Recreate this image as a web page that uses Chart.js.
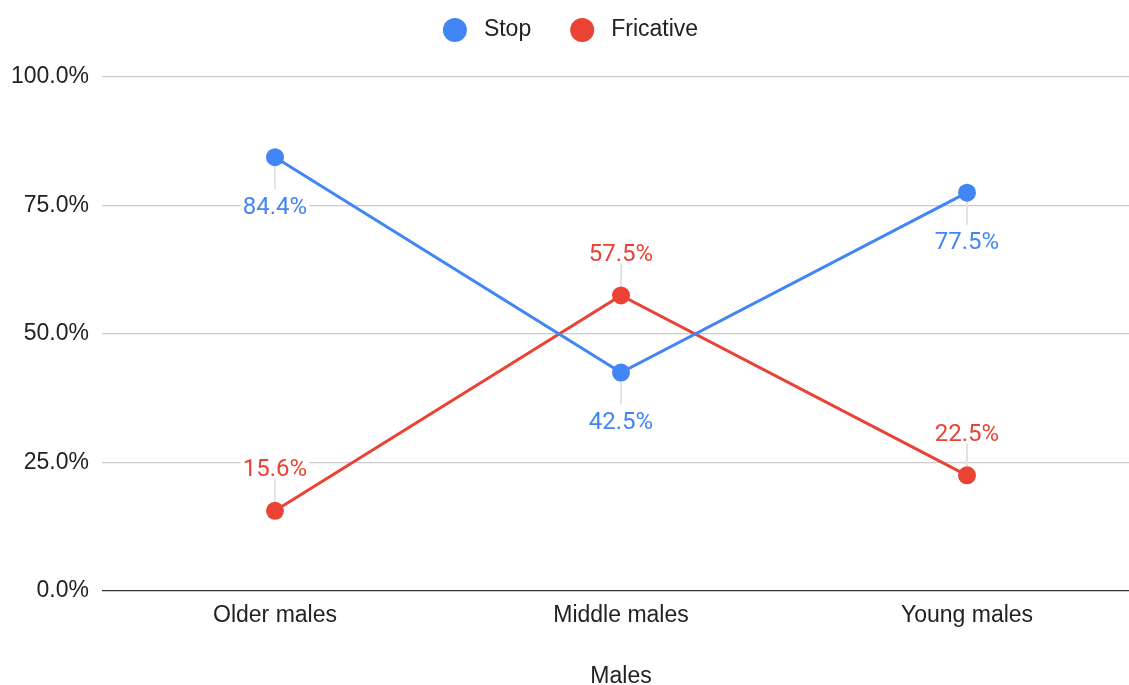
<!DOCTYPE html>
<html>
<head>
<meta charset="utf-8">
<script src="https://cdn.jsdelivr.net/npm/chart.js@4/dist/chart.umd.min.js"></script>
<style>
  html, body { margin: 0; padding: 0; background: #fff; overflow: hidden; }
  #wrap { width: 1149px; height: 685px; }
</style>
</head>
<body>
<div id="wrap"><canvas id="chart" width="1149" height="685"></canvas></div>
<script>
// Share of stop vs. fricative realisations by male age group
const categories = ['Older males', 'Middle males', 'Young males'];
const stopValues = [84.4, 42.5, 77.5];
const fricativeValues = [15.6, 57.5, 22.5];
const yTicks = [0, 25, 50, 75, 100];
const axisTitle = 'Males';

const BLUE = '#4285F4';
const RED = '#EA4335';
const AXIS_FONT = "'Liberation Sans', Arial, Helvetica, sans-serif";
const LABEL_FONT = "Roboto, 'Noto Sans', sans-serif";
const LEGEND_CENTER_X = 570.5;

// Label placement per series: Stop labels sit below their points, Fricative above
const labelSide = { 0: 1, 1: -1 };

const fmt = v => v.toFixed(1) + '%';

// Value labels with a short leader line and a white backing box
const valueLabels = {
  id: 'valueLabels',
  beforeDatasetsDraw(chart) {
    const ctx = chart.ctx;
    ctx.save();
    ctx.strokeStyle = '#e3e3e3';
    ctx.lineWidth = 2;
    chart.data.datasets.forEach((ds, di) => {
      const side = labelSide[di];
      chart.getDatasetMeta(di).data.forEach(pt => {
        ctx.beginPath();
        ctx.moveTo(pt.x, pt.y + side * 9);
        ctx.lineTo(pt.x, pt.y + side * 32);
        ctx.stroke();
      });
    });
    ctx.restore();
  },
  afterDatasetsDraw(chart) {
    const ctx = chart.ctx;
    ctx.save();
    ctx.font = '24px ' + LABEL_FONT;
    ctx.textAlign = 'center';
    ctx.textBaseline = 'alphabetic';
    chart.data.datasets.forEach((ds, di) => {
      const side = labelSide[di];
      chart.getDatasetMeta(di).data.forEach((pt, i) => {
        const text = fmt(ds.data[i]);
        const cy = pt.y + (side > 0 ? 48 : -43);
        const w = ctx.measureText(text).width;
        ctx.fillStyle = '#ffffff';
        ctx.fillRect(pt.x - w / 2 - 2, cy - 10, w + 4, 20);
        ctx.fillStyle = ds.borderColor;
        ctx.fillText(text, pt.x, cy + 8.5);
      });
    });
    ctx.restore();
  }
};

// Centered legend row at the top of the canvas
const topLegend = {
  id: 'topLegend',
  afterDraw(chart) {
    const ctx = chart.ctx;
    ctx.save();
    ctx.font = '23px ' + AXIS_FONT;
    ctx.textBaseline = 'middle';
    ctx.textAlign = 'left';
    const r = 12, gap = 17, itemGap = 39, cy = 30;
    const items = chart.data.datasets.map(ds => ({
      text: ds.label, color: ds.borderColor, w: ctx.measureText(ds.label).width
    }));
    const total = items.reduce((s, it) => s + 2 * r + gap + it.w, 0) + itemGap * (items.length - 1);
    let x = LEGEND_CENTER_X - total / 2;
    items.forEach(it => {
      ctx.fillStyle = it.color;
      ctx.beginPath();
      ctx.arc(x + r, cy, r, 0, Math.PI * 2);
      ctx.fill();
      ctx.fillStyle = '#222222';
      ctx.fillText(it.text, x + 2 * r + gap, cy);
      x += 2 * r + gap + it.w + itemGap;
    });
    ctx.restore();
  }
};

new Chart(document.getElementById('chart'), {
  type: 'line',
  data: {
    labels: categories,
    datasets: [
      {
        label: 'Stop',
        data: stopValues,
        borderColor: BLUE,
        backgroundColor: BLUE,
        borderWidth: 3,
        pointRadius: 9,
        pointHoverRadius: 9,
        pointBorderWidth: 0,
        tension: 0
      },
      {
        label: 'Fricative',
        data: fricativeValues,
        borderColor: RED,
        backgroundColor: RED,
        borderWidth: 3,
        pointRadius: 9,
        pointHoverRadius: 9,
        pointBorderWidth: 0,
        tension: 0
      }
    ]
  },
  options: {
    responsive: false,
    animation: false,
    devicePixelRatio: 1,
    layout: { padding: { top: 77, right: 1, bottom: 0, left: 0 } },
    plugins: {
      legend: { display: false },
      tooltip: { enabled: false }
    },
    scales: {
      x: {
        offset: true,
        grid: { display: false, drawTicks: false },
        border: { display: false },
        ticks: {
          color: '#222222',
          font: { family: AXIS_FONT, size: 23 },
          padding: 11,
          maxRotation: 0
        },
        title: {
          display: true,
          text: axisTitle,
          color: '#222222',
          font: { family: AXIS_FONT, size: 23, lineHeight: 1 },
          padding: { top: 0, bottom: -3 }
        },
        afterFit(scale) { scale.height = 94; }
      },
      y: {
        min: 0,
        max: 100,
        afterBuildTicks(scale) { scale.ticks = yTicks.map(v => ({ value: v })); },
        grid: {
          drawTicks: false,
          lineWidth: 1.2,
          color: ctx => (ctx.tick && ctx.tick.value === 0 ? '#333333' : '#cccccc')
        },
        border: { display: false },
        ticks: {
          color: '#222222',
          font: { family: AXIS_FONT, size: 23 },
          padding: 13,
          callback: v => fmt(v)
        },
        afterFit(scale) { scale.width = 102; }
      }
    }
  },
  plugins: [valueLabels, topLegend]
});
</script>
</body>
</html>
